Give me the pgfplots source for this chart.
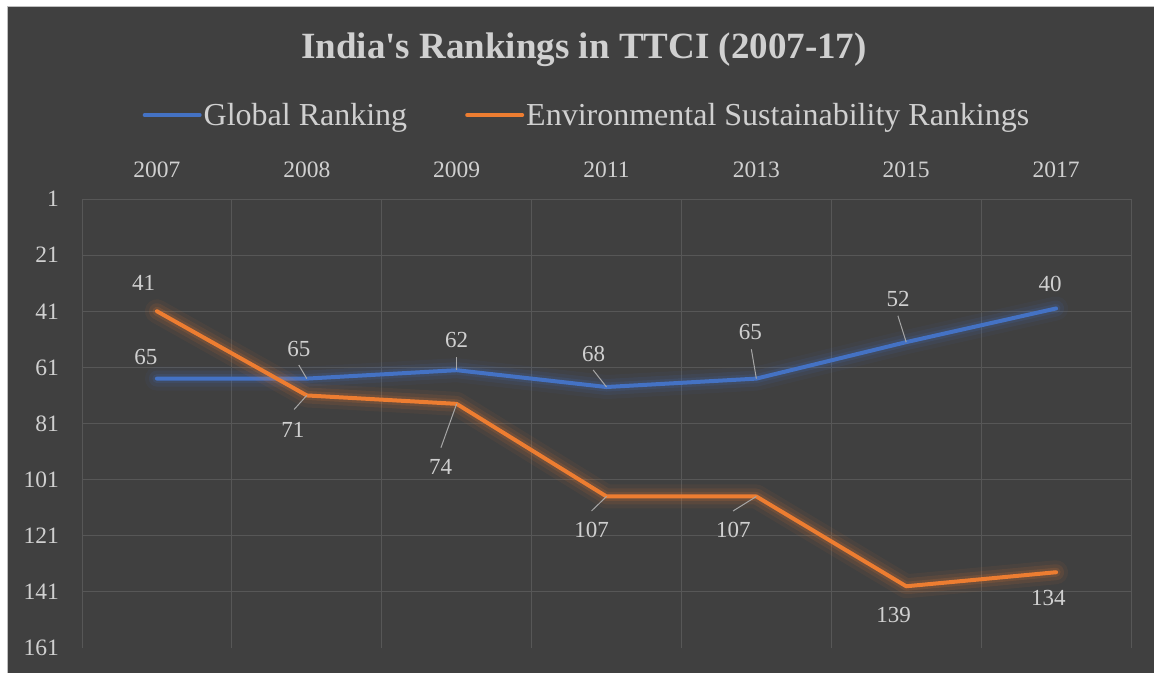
\documentclass[border=0pt]{standalone}
\usepackage{fontspec}
\setmainfont{Liberation Serif}
\newfontfamily\titlefont{Liberation Serif}
\usepackage{pgfplots}
\usepackage{pgfplotstable}
\pgfplotsset{compat=1.18}
\definecolor{bg}{HTML}{404040}
\definecolor{gridc}{HTML}{575757}
\definecolor{txt}{HTML}{D0D0D0}
\definecolor{blueL}{HTML}{4472C4}
\definecolor{orangeL}{HTML}{ED7D31}
\definecolor{leader}{HTML}{A6A6A6}
\pgfplotstableread{
x g e
0 65 41
1 65 71
2 62 74
3 68 107
4 65 107
5 52 139
6 40 134
}\rankdata
\begin{document}
\begin{tikzpicture}[x=1pt,y=1pt,
  lbl/.style={text=txt, font=\fontsize{23}{28}\selectfont, inner sep=0pt},
  ldr/.style={draw=leader, line width=1pt}]
\path[use as bounding box] (0,0) rectangle (1154,673);
\fill[white] (0,0) rectangle (1154,673);
\fill[bg] (8,0) rectangle (1154,666);
\draw[gray!50, line width=1pt] (7.5,0) -- (7.5,666.5) -- (1154,666.5);
\node[text=txt, font=\titlefont\fontsize{37}{44}\selectfont\bfseries] at (584,623) {India's Rankings in TTCI (2007-17)};
\begin{axis}[
  at={(82pt,25pt)}, anchor=south west, scale only axis,
  width=1049pt, height=449pt,
  xmin=-0.5, xmax=6.5, ymin=1, ymax=161, y dir=reverse,
  xtick={0,...,6}, xticklabels={2007,2008,2009,2011,2013,2015,2017},
  xticklabel pos=upper,
  ytick={1,21,...,141}, yticklabels={1,21,41,61,81,101,121,141},
  extra y ticks={161}, extra y tick labels={161}, extra y tick style={grid=none},
  extra x ticks={-0.5,0.5,...,6.5}, extra x tick labels={}, extra x tick style={grid=major},
  xmajorgrids=false, ymajorgrids=true,
  major grid style={gridc, line width=1pt},
  axis line style={draw=none}, major tick length=0pt,
  tick label style={text=txt, font=\fontsize{23.5}{28}\selectfont, inner sep=0pt},
  xticklabel style={yshift=21pt},
  yticklabel style={xshift=-23pt},
  legend columns=2,
  legend style={at={(0.4814,1.187)}, anchor=center, draw=none, fill=none,
    text=txt, font=\fontsize{32}{38}\selectfont,
    /tikz/every even column/.append style={column sep=56pt}},
  legend image code/.code={\draw[#1] (0pt,0pt) -- (55pt,0pt);},
]
\addplot[blueL, line width=24pt, opacity=0.06, line join=round, line cap=round, forget plot] table[x=x,y=g]{\rankdata};
\addplot[blueL, line width=16pt, opacity=0.10, line join=round, line cap=round, forget plot] table[x=x,y=g]{\rankdata};
\addplot[blueL, line width=9pt, opacity=0.15, line join=round, line cap=round, forget plot] table[x=x,y=g]{\rankdata};
\addplot[blueL, line width=4pt, line join=round, line cap=round] table[x=x,y=g]{\rankdata};
\addlegendentry{Global Ranking}
\addplot[orangeL, line width=24pt, opacity=0.06, line join=round, line cap=round, forget plot] table[x=x,y=e]{\rankdata};
\addplot[orangeL, line width=16pt, opacity=0.10, line join=round, line cap=round, forget plot] table[x=x,y=e]{\rankdata};
\addplot[orangeL, line width=9pt, opacity=0.15, line join=round, line cap=round, forget plot] table[x=x,y=e]{\rankdata};
\addplot[orangeL, line width=4pt, line join=round, line cap=round] table[x=x,y=e]{\rankdata};
\addlegendentry{Environmental Sustainability Rankings}
% global labels
\node[lbl] at (axis cs:0,65) [xshift=-11pt, yshift=21.6pt] {65};
\node[lbl] at (axis cs:1,65) [xshift=-8pt, yshift=29.6pt] {65};
\draw[ldr] (axis cs:1,65) -- ++(-8pt,13.6pt);
\node[lbl] at (axis cs:2,62) [xshift=0pt, yshift=30pt] {62};
\draw[ldr] (axis cs:2,62) -- ++(0pt,13pt);
\node[lbl] at (axis cs:3,68) [xshift=-13pt, yshift=33pt] {68};
\draw[ldr] (axis cs:3,68) -- ++(-13.3pt,17pt);
\node[lbl] at (axis cs:4,65) [xshift=-6pt, yshift=46.6pt] {65};
\draw[ldr] (axis cs:4,65) -- ++(-5pt,29.3pt);
\node[lbl] at (axis cs:5,52) [xshift=-8pt, yshift=43pt] {52};
\draw[ldr] (axis cs:5,52) -- ++(-8.3pt,26.3pt);
\node[lbl] at (axis cs:6,40) [xshift=-6pt, yshift=24.4pt] {40};
% environmental labels
\node[lbl] at (axis cs:0,41) [xshift=-13.3pt, yshift=28pt] {41};
\node[lbl] at (axis cs:1,71) [xshift=-14pt, yshift=-34pt] {71};
\draw[ldr] (axis cs:1,71) -- ++(-12.7pt,-14pt);
\node[lbl] at (axis cs:2,74) [xshift=-16pt, yshift=-63pt] {74};
\draw[ldr] (axis cs:2,74) -- ++(-15.7pt,-43.8pt);
\node[lbl] at (axis cs:3,107) [xshift=-15pt, yshift=-33.5pt] {107};
\draw[ldr] (axis cs:3,107) -- ++(-15pt,-14.5pt);
\node[lbl] at (axis cs:4,107) [xshift=-23pt, yshift=-33.5pt] {107};
\draw[ldr] (axis cs:4,107) -- ++(-23.3pt,-14.5pt);
\node[lbl] at (axis cs:5,139) [xshift=-12.7pt, yshift=-28.7pt] {139};
\node[lbl] at (axis cs:6,134) [xshift=-7.7pt, yshift=-26.1pt] {134};
\end{axis}
\end{tikzpicture}
\end{document}
